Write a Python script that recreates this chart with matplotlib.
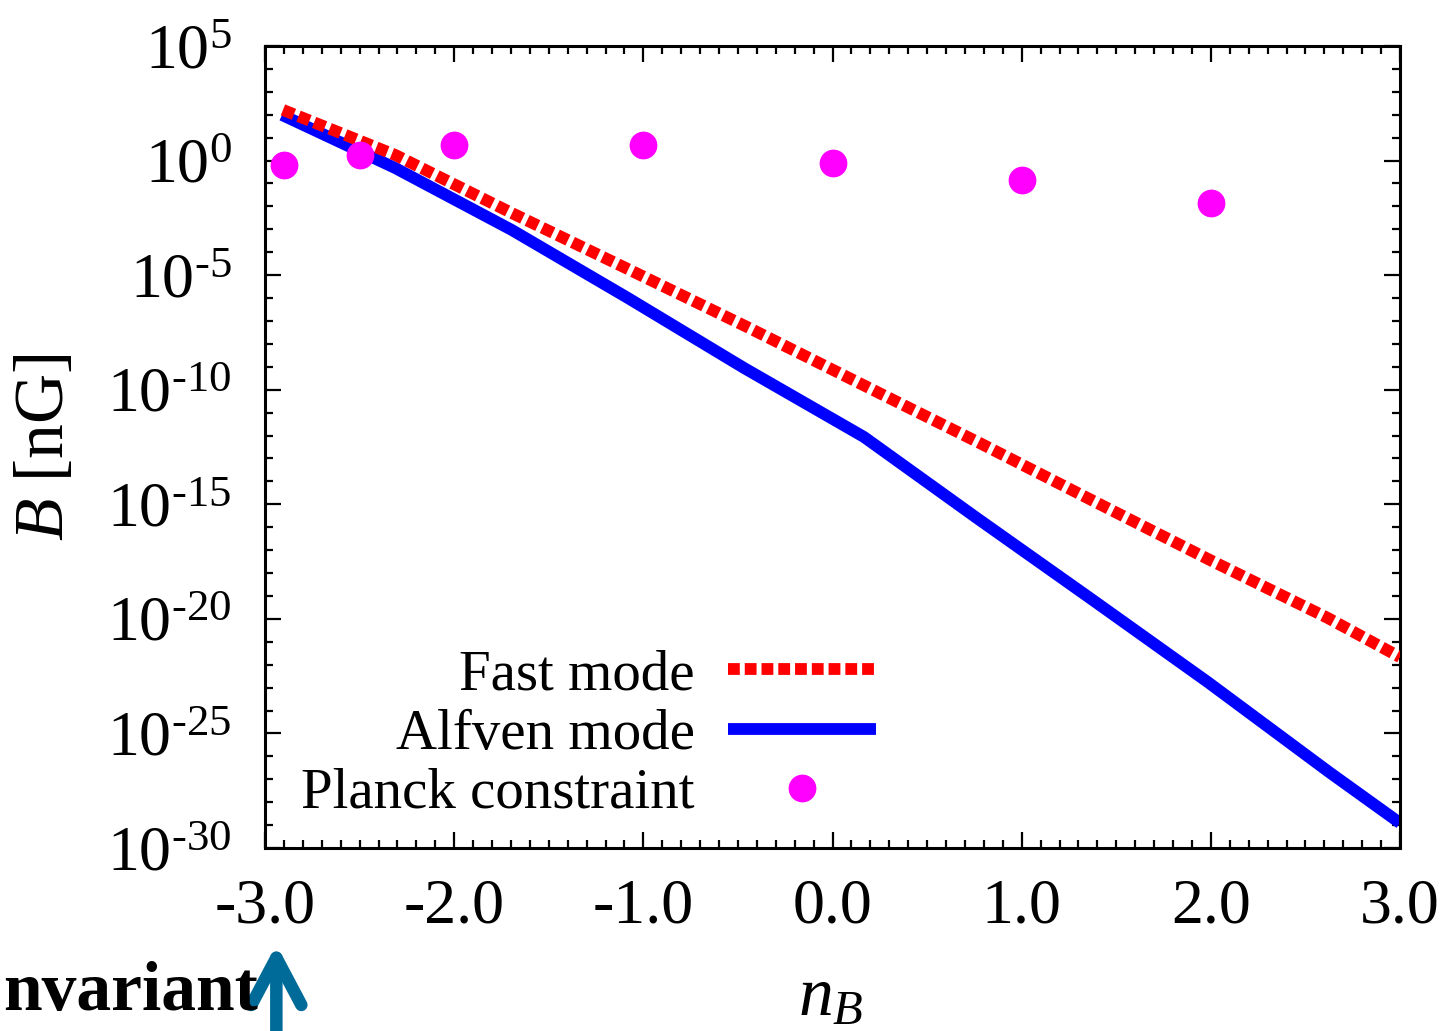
import matplotlib
matplotlib.use("Agg")
import matplotlib.pyplot as plt
import numpy as np
from matplotlib.ticker import FixedLocator, MultipleLocator, NullFormatter

plt.rcParams['font.family'] = ['Liberation Serif', 'DejaVu Serif']
plt.rcParams['mathtext.fontset'] = 'custom'
plt.rcParams['mathtext.rm'] = 'Liberation Serif'
plt.rcParams['mathtext.it'] = 'Liberation Serif:italic'
plt.rcParams['mathtext.bf'] = 'Liberation Serif:bold'

# ---- data ----
fast_n = [-2.905, -2.31, -1.695, -1.07, -0.452, 0.161, 0.779, 1.38, 1.995, 2.618, 3.0]
fast_logB = [2.21, 0.24, -2.29, -4.78, -7.26, -9.79, -12.33, -14.86, -17.43, -19.96, -21.67]

alfven_n = [-2.91, -2.313, -1.695, -1.081, -0.468, 0.166, 0.763, 1.376, 1.984, 2.629, 3.0]
alfven_logB = [1.99, -0.32, -3.03, -6.00, -9.05, -12.06, -15.60, -19.18, -22.76, -26.71, -28.91]

planck_n = [-2.9, -2.5, -2.0, -1.0, 0.0, 1.0, 2.0]
planck_logB = [-0.19, 0.24, 0.68, 0.68, -0.11, -0.85, -1.85]

ytick_exp = [5, 0, -5, -10, -15, -20, -25, -30]
xtick_vals = [-3.0, -2.0, -1.0, 0.0, 1.0, 2.0, 3.0]

fast_B = 10.0 ** np.array(fast_logB)
alfven_B = 10.0 ** np.array(alfven_logB)
planck_B = 10.0 ** np.array(planck_logB)

fig = plt.figure(figsize=(14.47, 10.31), dpi=100)
ax = fig.add_axes([265 / 1447, 1 - 848 / 1031, (1400 - 265) / 1447, (848 - 46) / 1031])

ax.plot(fast_n, fast_B, color='#ff0000', lw=8.5, linestyle=(0, (1.0, 0.42)),
        dash_capstyle='butt', solid_capstyle='butt', label='Fast mode', zorder=3)
ax.plot(alfven_n, alfven_B, color='#0000ff', lw=8.5, solid_capstyle='butt',
        solid_joinstyle='round', label='Alfven mode', zorder=2)
ax.plot(planck_n, planck_B, linestyle='none', marker='o', ms=19, color='#ff00ff',
        mec='#ff00ff', label='Planck constraint', zorder=4)

ax.set_yscale('log')
ax.set_xlim(-3, 3)
ax.set_ylim(1e-30, 1e5)

ax.yaxis.set_major_locator(FixedLocator([10.0 ** e for e in ytick_exp]))
ax.yaxis.set_minor_locator(FixedLocator([10.0 ** e for e in range(-30, 6)]))
ax.yaxis.set_minor_formatter(NullFormatter())
ax.set_yticklabels([r'$\mathregular{10^{%s}}$' % (str(e).replace('-', '\u2010')) for e in ytick_exp])

ax.xaxis.set_major_locator(FixedLocator(xtick_vals))
ax.xaxis.set_minor_locator(MultipleLocator(0.1))
ax.set_xticklabels(['%.1f' % v for v in xtick_vals])

for sp in ax.spines.values():
    sp.set_linewidth(2.2)
ax.tick_params(which='both', direction='in', top=True, right=True, width=1.6)
ax.tick_params(which='major', length=11.5)
ax.tick_params(which='minor', length=5.5)
ax.tick_params(axis='x', which='major', labelsize=46, pad=22)
ax.tick_params(axis='y', which='major', labelsize=46, pad=24)

ax.set_ylabel(r'$B$ [nG]', fontsize=50)
ax.yaxis.set_label_coords(-0.165, 0.5)
ax.set_xlabel(r'$n_B$', fontsize=50, va='top')
ax.xaxis.set_label_coords(0.498, -0.148)

leg = ax.legend(loc='lower right', bbox_to_anchor=(0.538, 0.035), frameon=False,
                fontsize=41, markerfirst=False, handlelength=2.6, handletextpad=0.58,
                labelspacing=0.13, borderpad=0, borderaxespad=0, numpoints=1)

ax.annotate('', xy=(-2.94, 0.084), xycoords=('data', 'figure fraction'),
            xytext=(-2.94, -0.02), textcoords=('data', 'figure fraction'),
            arrowprops=dict(arrowstyle='->,head_length=3.4,head_width=1.8',
                            lw=9, color='#006b99', capstyle='round', joinstyle='round',
                            shrinkA=0, shrinkB=0, mutation_scale=10),
            annotation_clip=False)
fig.text(3 / 1447, 1 - 1010 / 1031, 'nvariant', fontsize=50, fontweight='bold',
         va='baseline', ha='left')

fig.savefig('out.png', dpi=100)
